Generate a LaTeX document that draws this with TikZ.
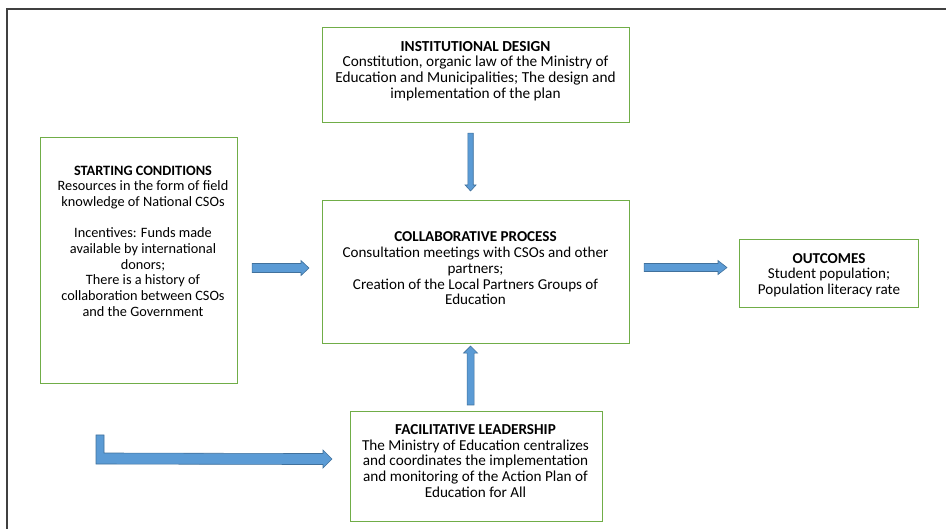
\documentclass[tikz,border=0pt]{standalone}
\usepackage{fontspec}
\setmainfont{Carlito}
\usetikzlibrary{calc}
\definecolor{boxgreen}{HTML}{70AD47}
\definecolor{arrowfill}{HTML}{5B9BD5}
\definecolor{arrowline}{HTML}{41719C}
\definecolor{frame}{HTML}{404040}
\tikzset{
  box/.style={draw=boxgreen, line width=1.1pt, inner sep=0pt, anchor=north west},
  txt/.style={align=center, inner sep=0pt, font=\fontsize{#1}{15.7}\selectfont},
  txt/.default=15.2,
  barrow/.style={fill=arrowfill, draw=arrowline, line width=0.6pt, line join=miter},
}
\begin{document}
\begin{tikzpicture}[x=1pt,y=-1pt]
\useasboundingbox (0,0) rectangle (946,529);
\begin{scope}
\clip (0,0) rectangle (946,529);
\draw[frame, line width=1.4pt] (7,9) rectangle (980,560);
\end{scope}

% boxes
\node[box, minimum width=307pt, minimum height=95pt] (id) at (322,27) {};
\node[box, minimum width=197pt, minimum height=246pt] (sc) at (40,137) {};
\node[box, minimum width=307pt, minimum height=143pt] (cp) at (322,200) {};
\node[box, minimum width=179pt, minimum height=68pt] (oc) at (739,239) {};
\node[box, minimum width=252pt, minimum height=110pt] (fl) at (350,411) {};

% texts
\node[txt=15.3] (idt) at (475.5,71) {\textbf{INSTITUTIONAL DESIGN}\\Constitution, organic law of the Ministry of\\Education and Municipalities; The design and\\implementation of the plan};
\node[txt=14.3] (sct) at (143,241) {\textbf{STARTING CONDITIONS}\\Resources in the form of field\\knowledge of National CSOs\\[15.6pt]Incentives: Funds made\\available by international\\donors;\\There is a history of\\collaboration between CSOs\\and the Government};
\node[txt=15.1] (cpt) at (475.5,268.5) {\textbf{COLLABORATIVE PROCESS}\\Consultation meetings with CSOs and other\\partners;\\Creation of the Local Partners Groups of\\Education};
\node[txt=15.1] (oct) at (829,275) {\textbf{OUTCOMES}\\Student population;\\Population literacy rate};
\node[txt=15.2] (flt) at (475.5,461) {\textbf{FACILITATIVE LEADERSHIP}\\The Ministry of Education centralizes\\and coordinates the implementation\\and monitoring of the Action Plan of\\Education for All};

% arrow end points
\coordinate (a1s) at ($(sc.east)+(14,7.5)$);
\coordinate (a1e) at ($(cp.west)+(-13,-4)$);
\coordinate (a2s) at ($(cp.east)+(14,-4.5)$);
\coordinate (a2e) at ($(oc.west)+(-12,-6)$);
\coordinate (a3s) at ($(id.south)+(-5.5,10)$);
\coordinate (a3e) at ($(cp.north)+(-5.5,-9)$);
\coordinate (a4s) at ($(fl.north)+(-6,-6)$);
\coordinate (a4e) at ($(cp.south)+(-5.5,2)$);
\coordinate (a5c) at (100,435);
\coordinate (a5e) at ($(fl.west)+(-18,-7.5)$);

% starting -> collaborative
\draw[barrow] ($(a1s)+(0,-4.5)$) -- ($(a1e)+(-8,-4.5)$) -- ($(a1e)+(-8,-7.5)$) -- (a1e)
  -- ($(a1e)+(-8,7.5)$) -- ($(a1e)+(-8,4.5)$) -- ($(a1s)+(0,4.5)$) -- cycle;
% collaborative -> outcomes
\draw[barrow] ($(a2s)+(0,-4)$) -- ($(a2e)+(-9,-4)$) -- ($(a2e)+(-9,-7)$) -- (a2e)
  -- ($(a2e)+(-9,7)$) -- ($(a2e)+(-9,4)$) -- ($(a2s)+(0,4)$) -- cycle;
% institutional -> collaborative
\draw[barrow] ($(a3s)+(-2.7,0)$) -- ($(a3e)+(-2.7,-6)$) -- ($(a3e)+(-5.5,-6)$) -- (a3e)
  -- ($(a3e)+(5.5,-6)$) -- ($(a3e)+(2.7,-6)$) -- ($(a3s)+(2.7,0)$) -- cycle;
% facilitative -> collaborative
\draw[barrow] ($(a4s)+(-3.5,0)$) -- ($(a4e)+(-3.5,7)$) -- ($(a4e)+(-7,7)$) -- (a4e)
  -- ($(a4e)+(7,7)$) -- ($(a4e)+(3.5,7)$) -- ($(a4s)+(3.5,0)$) -- cycle;
% bent arrow -> facilitative
\draw[barrow] ($(a5c)+(-4,0)$) -- ($(a5c)+(4,0)$) -- ($(a5c)+(4,18)$)
  -- ($(a5e)+(-9,-5.5)$) -- ($(a5e)+(-9,-9)$) -- (a5e) -- ($(a5e)+(-9,9)$)
  -- ($(a5e)+(-9,5.5)$) -- ($(a5c)+(-4,29)$) -- cycle;
\end{tikzpicture}
\end{document}
